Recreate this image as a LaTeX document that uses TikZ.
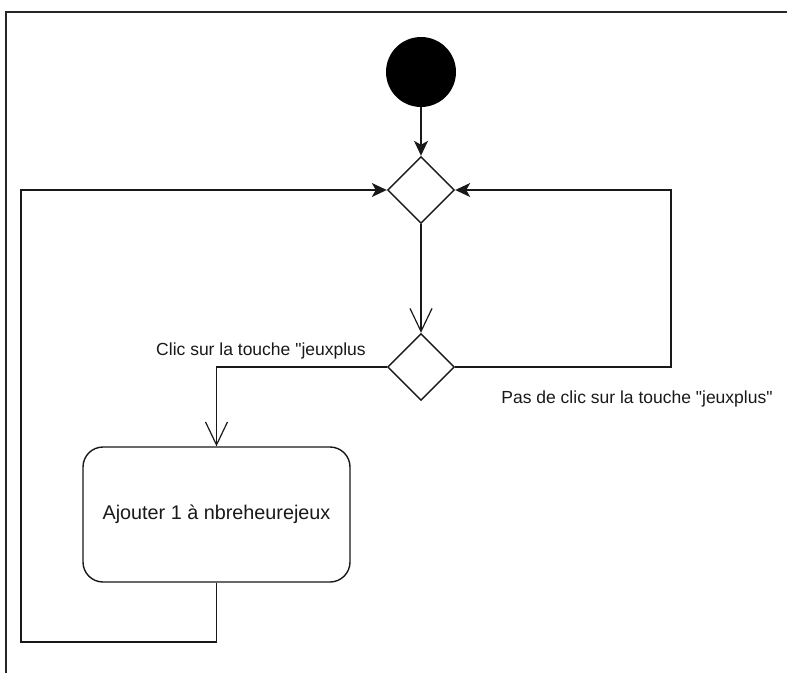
\documentclass[tikz,border=0pt]{standalone}
\usepackage{fontspec}
\setmainfont{Liberation Sans}[Ligatures=TeXOff]
\usetikzlibrary{positioning,%
  arrows.meta,%
  shapes.geometric%
}

\begin{document}
\begin{tikzpicture}[x=1pt,y=-1pt]
            \tikzset{trait/.style={line width=1.4pt,black!90},
              plein/.style={trait,-{Stealth[length=15pt,width=14pt,inset=4pt]}},
              ouvert/.style={trait,-{Straight Barb[length=23pt,width=22pt,line width=1.2pt]}},
              choix/.style={diamond,draw,trait,aspect=1,inner sep=0pt,minimum width=67pt,minimum height=67pt},
              action/.style={rectangle,draw,trait,rounded corners=20pt,minimum width=267pt,minimum height=135pt,font=\fontsize{19.8}{23}\selectfont},
              etiq/.style={font=\fontsize{17.5}{21}\selectfont,text=black!90}}
            \useasboundingbox (0,0) rectangle (787,673);
            \draw[line width=2pt,black!85] (6,673) -- (6,12) -- (787,12);

            \node[circle,fill=black,minimum size=70pt,inner sep=0pt] (debut) at (421,72) {};
            \node[choix] (d1) at (421,190) {};
            \node[choix] (d2) at (421,367) {};
            \node[action] (ajout) at (216.5,514.5) {Ajouter 1 à nbreheurejeux};

            \coordinate (gb) at (21,642);
            \coordinate (dr) at (671,367);

            \node[etiq] (lclic) at (261,351) {Clic sur la touche "jeuxplus};
            \node[etiq] (lpas) at (637,399) {Pas de clic sur la touche "jeuxplus"};

            \draw[plein] (debut) -- (d1);
            \draw[ouvert] (d1) -- (d2);
            \draw[ouvert] (d2.west) -| (ajout.north);

            %boucles
            \draw[plein] (ajout.south) |- (gb) |- (d1.west);
            \draw[plein] (d2.east) -- (dr) |- (d1.east);
        \end{tikzpicture}
\end{document}
